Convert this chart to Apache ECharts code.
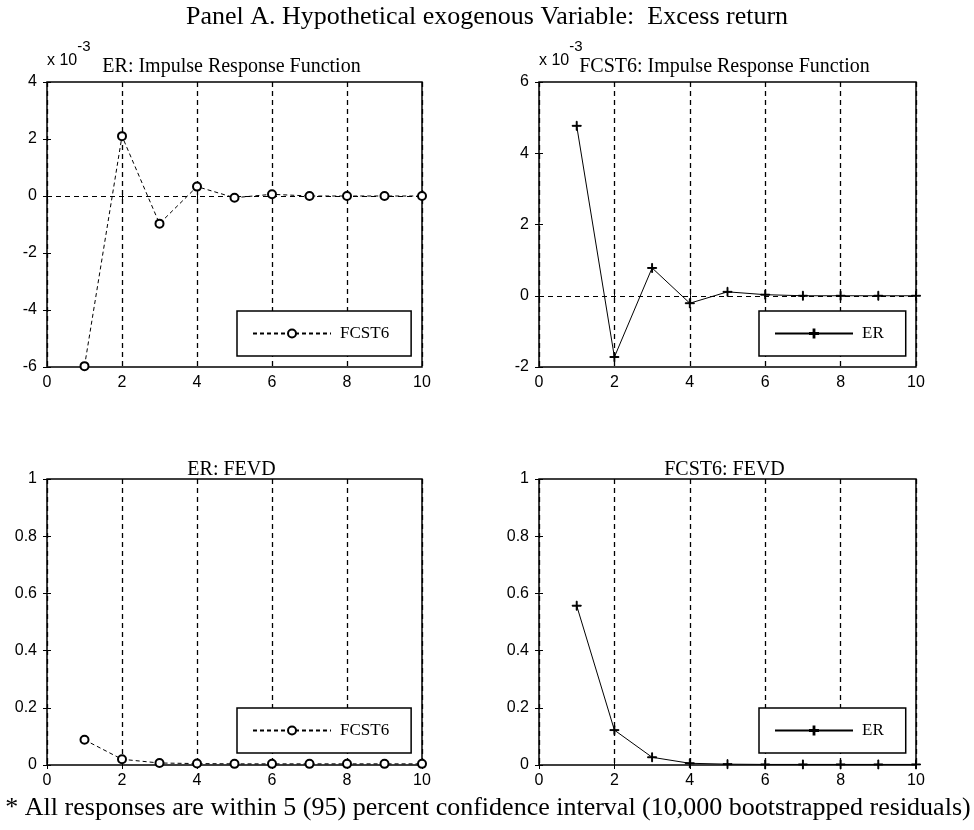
<!DOCTYPE html>
<html>
<head>
<meta charset="utf-8">
<script src="https://cdn.jsdelivr.net/npm/echarts@6/dist/echarts.min.js"></script>
<style>html,body{margin:0;padding:0;background:#fff;}#c{width:974px;height:830px;}</style>
</head>
<body>
<div id="c"></div>
<script>
// ---- data (horizon periods) ----
const periods = [1, 2, 3, 4, 5, 6, 7, 8, 9, 10];
// Impulse responses, in units of 10^-3
const irfER_FCST6 = [-5.97, 2.1, -0.97, 0.33, -0.06, 0.06, 0.0, 0.0, 0.0, 0.0];
const irfFCST6_ER = [4.77, -1.72, 0.78, -0.21, 0.11, 0.03, 0.0, 0.0, 0.0, 0.0];
// Forecast error variance decompositions
const fevdER_FCST6 = [0.088, 0.02, 0.007, 0.005, 0.004, 0.004, 0.004, 0.004, 0.004, 0.004];
const fevdFCST6_ER = [0.557, 0.122, 0.027, 0.006, 0.003, 0.002, 0.002, 0.002, 0.002, 0.002];
const xTicks = [0, 2, 4, 6, 8, 10];
const panelTitles = ['ER: Impulse Response Function', 'FCST6: Impulse Response Function', 'ER: FEVD', 'FCST6: FEVD'];
const seriesNames = ['FCST6', 'ER', 'FCST6', 'ER'];
const mainTitle = 'Panel A. Hypothetical exogenous Variable:  Excess return';
const footnote = '* All responses are within 5 (95) percent confidence interval (10,000 bootstrapped residuals)';

const chart = echarts.init(document.getElementById('c'), null, {renderer: 'canvas'});

const grids = [
  {left: 47, top: 82, width: 375, height: 285},
  {left: 539, top: 82, width: 377, height: 285},
  {left: 47, top: 479, width: 375, height: 286},
  {left: 539, top: 479, width: 377, height: 286}
];
const yRanges = [
  {min: -6, max: 4, interval: 2},
  {min: -2, max: 6, interval: 2},
  {min: 0, max: 1, interval: 0.2},
  {min: 0, max: 1, interval: 0.2}
];
const seriesData = [irfER_FCST6, irfFCST6_ER, fevdER_FCST6, fevdFCST6_ER];
const plusPath = 'path://M4.5,0 H5.5 V10 H4.5 Z M0,4.5 H10 V5.5 H0 Z';

const tickFont = {fontFamily: 'Liberation Sans', fontSize: 16, color: '#000'};

const xAxes = [], yAxes = [], series = [], titles = [], legends = [];
grids.forEach((g, i) => {
  const tick = {show: true, inside: true, length: 4, lineStyle: {color: '#000', width: 1}};
  xAxes.push({
    type: 'value', gridIndex: i, position: 'bottom', min: 0, max: 10, interval: 2,
    axisLine: {show: false}, axisTick: tick,
    axisLabel: Object.assign({margin: 8}, tickFont),
    splitLine: {show: true, lineStyle: {color: '#000', type: [5, 4], width: 1.3}}
  });
  xAxes.push({
    type: 'value', gridIndex: i, position: 'top', min: 0, max: 10, interval: 2,
    axisLine: {show: false}, axisTick: tick, axisLabel: {show: false}, splitLine: {show: false}
  });
  const r = yRanges[i];
  const left = {
    type: 'value', gridIndex: i, position: 'left', min: r.min, max: r.max, interval: r.interval,
    axisLine: {show: false}, axisTick: tick,
    axisLabel: Object.assign({margin: 10}, tickFont),
    splitLine: {show: false}
  };
  if (i < 2) {
    left.name = '{b|x 10}{s|-3}';
    left.nameLocation = 'end';
    left.nameGap = 13;
    left.nameTextStyle = {
      align: 'left', verticalAlign: 'bottom',
      rich: {
        b: {fontFamily: 'Liberation Sans', fontSize: 16, color: '#000', lineHeight: 30, verticalAlign: 'bottom'},
        s: {fontFamily: 'Liberation Sans', fontSize: 15, color: '#000', lineHeight: 30, verticalAlign: 'top'}
      }
    };
  }
  yAxes.push(left);
  yAxes.push({
    type: 'value', gridIndex: i, position: 'right', min: r.min, max: r.max, interval: r.interval,
    axisLine: {show: false}, axisTick: tick, axisLabel: {show: false}, splitLine: {show: false}
  });

  const isCircle = (i % 2 === 0);
  const s = {
    type: 'line', name: seriesNames[i], xAxisIndex: 2 * i, yAxisIndex: 2 * i,
    data: periods.map((p, k) => [p, seriesData[i][k]]),
    symbol: isCircle ? 'emptyCircle' : plusPath,
    symbolSize: isCircle ? 8 : 9,
    showAllSymbol: true,
    itemStyle: {color: '#000', borderColor: '#000', borderWidth: 1},
    lineStyle: {color: '#000', width: 1, type: isCircle ? [4, 3] : 'solid'},
    emphasis: {disabled: true},
    silent: true, z: 5
  };
  if (i < 2) {
    s.markLine = {
      silent: true, symbol: ['none', 'none'], label: {show: false},
      lineStyle: {color: '#000', type: [5, 4], width: 1.2},
      data: [{yAxis: 0}], animation: false
    };
  }
  series.push(s);

  titles.push({
    text: panelTitles[i],
    left: g.left + g.width / 2 - 3, top: (i < 2 ? 57 : 460), textAlign: 'center', padding: 0,
    textStyle: {fontFamily: 'Liberation Serif', fontSize: 20, fontWeight: 'normal', color: '#000'}
  });

  legends.push({
    data: [seriesNames[i]],
    left: (i % 2 === 0 ? 237 : 759), top: (i < 2 ? 311 : 708),
    orient: 'horizontal',
    padding: [14, 22, 14, 15],
    itemWidth: 78, itemHeight: 10,
    borderColor: '#000', borderWidth: 1.5, backgroundColor: '#fff',
    selectedMode: false,
    textStyle: {fontFamily: 'Liberation Serif', fontSize: 17, color: '#000', padding: [0, 0, 0, 4]}
  });
});

titles.push({
  text: mainTitle, left: 487, top: 4, textAlign: 'center', padding: 0,
  textStyle: {fontFamily: 'Liberation Serif', fontSize: 26, fontWeight: 'normal', color: '#000'}
});
titles.push({
  text: footnote, left: 488, top: 795, textAlign: 'center', padding: 0,
  textStyle: {fontFamily: 'Liberation Serif', fontSize: 26, fontWeight: 'normal', color: '#000'}
});

chart.setOption({
  animation: false,
  backgroundColor: '#fff',
  title: titles,
  legend: legends,
  grid: grids.map(g => Object.assign({show: true, borderColor: '#000', borderWidth: 1.5, backgroundColor: 'transparent', containLabel: false}, g)),
  xAxis: xAxes,
  yAxis: yAxes,
  series: series
});
</script>
</body>
</html>
